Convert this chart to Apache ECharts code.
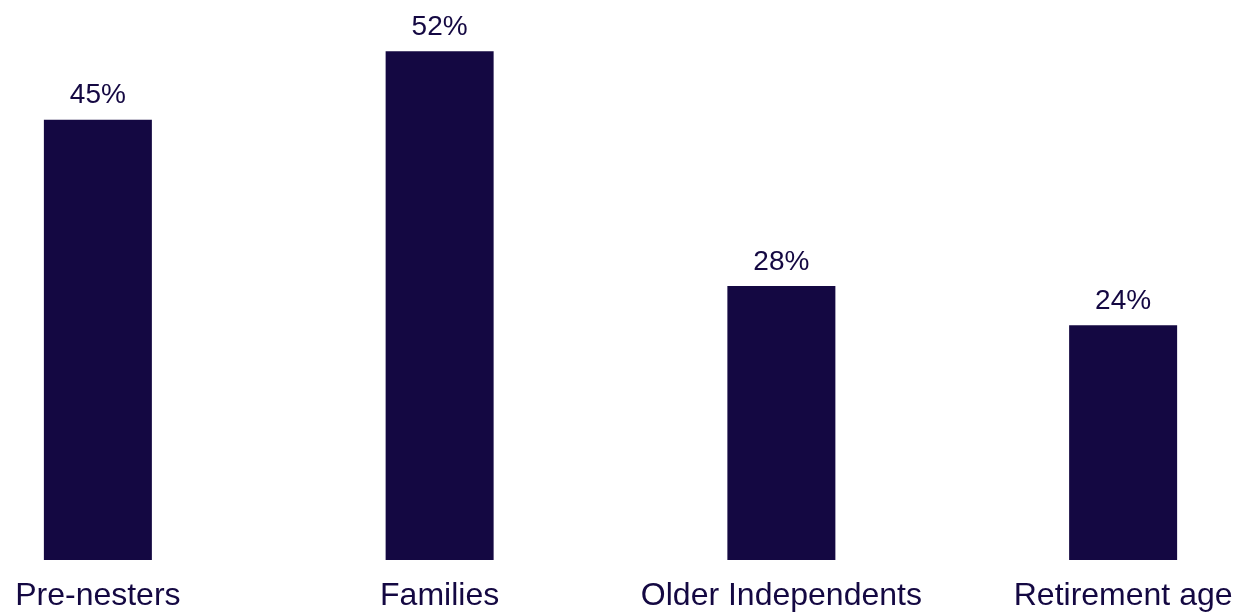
<!DOCTYPE html>
<html>
<head>
<meta charset="utf-8">
<script src="https://cdn.jsdelivr.net/npm/echarts@6/dist/echarts.min.js"></script>
<style>
  html, body { margin: 0; padding: 0; background: #ffffff; overflow: hidden; width: 1235px; height: 613px; position: relative; }
  /* The plot is wider and taller than the window so the outer bands bleed off the edges */
  #chart { position: absolute; left: -73px; top: -27px; width: 1367px; height: 640px; }
</style>
</head>
<body>
<div id="chart"></div>
<script>
// Share of each life-stage group (percent)
const categories = ['Pre-nesters', 'Families', 'Older Independents', 'Retirement age'];
const values = [45, 52, 28, 24];

const ink = '#140842';

const chart = echarts.init(document.getElementById('chart'), null, { renderer: 'canvas' });
chart.setOption({
  animation: false,
  grid: { left: 0, right: 0, top: 0, bottom: 53, containLabel: false },
  xAxis: {
    type: 'category',
    data: categories,
    axisLine: { show: false },
    axisTick: { show: false },
    axisLabel: {
      color: ink,
      fontFamily: 'Liberation Sans, Arial, sans-serif',
      fontSize: 32,
      margin: 20,
      interval: 0
    }
  },
  yAxis: {
    type: 'value',
    min: 0,
    max: 60,
    show: false,
    splitLine: { show: false }
  },
  series: [{
    type: 'bar',
    data: values,
    barWidth: 108,
    itemStyle: { color: ink },
    label: {
      show: true,
      position: 'top',
      distance: 10,
      color: ink,
      fontFamily: 'Liberation Sans, Arial, sans-serif',
      fontSize: 28,
      formatter: p => p.value + '%'
    }
  }]
});
</script>
</body>
</html>
